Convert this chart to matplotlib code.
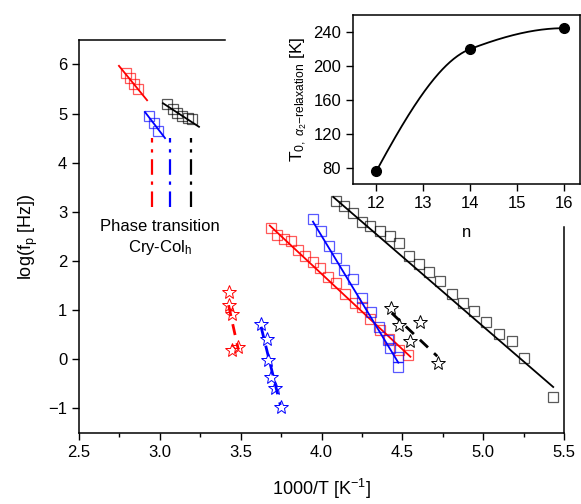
#!/usr/bin/env python3

import matplotlib
matplotlib.use('Agg')
import matplotlib.pyplot as plt
import numpy as np

plt.rcParams['font.family'] = ['Liberation Sans', 'DejaVu Sans']
plt.rcParams['mathtext.fontset'] = 'custom'
plt.rcParams['mathtext.rm'] = 'Liberation Sans'
plt.rcParams['mathtext.it'] = 'Liberation Sans:italic'

# --- low-T (crystal) data, top left
red_top_x = [2.789, 2.815, 2.840, 2.863]
red_top_y = [5.82, 5.72, 5.61, 5.49]
red_top_fit = ([2.747, 2.921], [5.97, 5.27])

blue_top_x = [2.935, 2.966, 2.990]
blue_top_y = [4.95, 4.81, 4.64]
blue_top_fit = ([2.908, 3.032], [5.03, 4.50])

black_top_x = [3.042, 3.083, 3.104, 3.135, 3.172, 3.197]
black_top_y = [5.19, 5.09, 5.02, 4.95, 4.90, 4.88]
black_top_fit = ([3.019, 3.242], [5.21, 4.73])

transition_x = [2.951, 3.063, 3.193]
transition_y = (3.1, 4.5)

# --- main relaxation (squares)
red_x = [3.687, 3.724, 3.768, 3.811, 3.854, 3.898, 3.947, 3.990, 4.040, 4.089,
         4.145, 4.207, 4.250, 4.300, 4.361, 4.417, 4.479, 4.535]
red_y = [2.67, 2.53, 2.45, 2.41, 2.23, 2.10, 1.98, 1.86, 1.68, 1.56,
         1.33, 1.15, 1.07, 0.82, 0.60, 0.42, 0.19, 0.09]
red_fit = ([3.68, 4.55], [2.72, 0.05])

blue_x = [3.945, 3.997, 4.046, 4.092, 4.142, 4.195, 4.248, 4.304, 4.357,
          4.414, 4.426, 4.476, 4.476]
blue_y = [2.85, 2.60, 2.30, 2.07, 1.82, 1.64, 1.24, 0.97, 0.66,
          0.40, 0.22, 0.05, -0.15]
blue_fit = ([3.947, 4.475], [2.80, -0.07])

black_x = [4.089, 4.139, 4.193, 4.248, 4.301, 4.363, 4.421, 4.481, 4.540, 4.601,
           4.666, 4.730, 4.805, 4.875, 4.943, 5.017, 5.099, 5.176, 5.255, 5.429]
black_y = [3.23, 3.12, 2.97, 2.79, 2.72, 2.60, 2.51, 2.37, 2.10, 1.93,
           1.78, 1.59, 1.32, 1.14, 0.99, 0.76, 0.52, 0.37, 0.02, -0.76]
black_fit = ([4.073, 5.433], [3.30, -0.565])

# --- secondary process (stars)
red_star_x = [3.428, 3.429, 3.445, 3.444, 3.483]
red_star_y = [1.36, 1.11, 0.92, 0.19, 0.25]
red_star_fit = ([3.425, 3.485], [1.10, 0.20])

blue_star_x = [3.626, 3.660, 3.671, 3.686, 3.715, 3.747]
blue_star_y = [0.72, 0.41, -0.01, -0.36, -0.59, -0.97]
blue_star_fit = ([3.626, 3.745], [0.66, -0.93])

black_star_x = [4.429, 4.480, 4.611, 4.547, 4.722]
black_star_y = [1.04, 0.69, 0.75, 0.38, -0.08]
black_star_fit = ([4.434, 4.716], [0.94, 0.06])

# --- inset
n_vals = [12, 14, 16]
T0_vals = [76.5, 220, 244.5]


def pchip(x, y, xs):
    x = np.asarray(x, float); y = np.asarray(y, float)
    h = np.diff(x); d = np.diff(y) / h
    m = np.zeros_like(y)
    for k in range(1, len(x) - 1):
        if d[k-1] * d[k] > 0:
            w1 = 2*h[k] + h[k-1]; w2 = h[k] + 2*h[k-1]
            m[k] = (w1 + w2) / (w1/d[k-1] + w2/d[k])
    m[0] = ((2*h[0] + h[1])*d[0] - h[0]*d[1]) / (h[0] + h[1])
    if m[0]*d[0] <= 0: m[0] = 0
    m[-1] = ((2*h[-1] + h[-2])*d[-1] - h[-1]*d[-2]) / (h[-1] + h[-2])
    if m[-1]*d[-1] <= 0: m[-1] = 0
    idx = np.clip(np.searchsorted(x, xs) - 1, 0, len(x) - 2)
    t = (xs - x[idx]) / h[idx]
    h00 = 2*t**3 - 3*t**2 + 1; h10 = t**3 - 2*t**2 + t
    h01 = -2*t**3 + 3*t**2; h11 = t**3 - t**2
    return h00*y[idx] + h10*h[idx]*m[idx] + h01*y[idx+1] + h11*h[idx]*m[idx+1]


fig = plt.figure(figsize=(5.81, 5.04), dpi=100)
ax = fig.add_axes([0.136, 0.141, 0.8348, 0.780])

sq = dict(marker='s', markersize=7.5, markerfacecolor='none', markeredgewidth=0.9,
          linestyle='none', alpha=0.65)
st = dict(marker='*', markersize=10, markerfacecolor='none', markeredgewidth=0.7,
          linestyle='none')

for xs, ys, fit, col in [(red_top_x, red_top_y, red_top_fit, 'red'),
                         (blue_top_x, blue_top_y, blue_top_fit, 'blue'),
                         (black_top_x, black_top_y, black_top_fit, 'black'),
                         (red_x, red_y, red_fit, 'red'),
                         (blue_x, blue_y, blue_fit, 'blue'),
                         (black_x, black_y, black_fit, 'black')]:
    ax.plot(xs, ys, color=col, **sq)
    ax.plot(fit[0], fit[1], color=col, lw=1.3)

for xs, ys, fit, col in [(red_star_x, red_star_y, red_star_fit, 'red'),
                         (blue_star_x, blue_star_y, blue_star_fit, 'blue'),
                         (black_star_x, black_star_y, black_star_fit, 'black')]:
    ax.plot(xs, ys, color=col, **st)
    ax.plot(fit[0], fit[1], color=col, lw=2, dashes=(4, 3))

for xv, col in zip(transition_x, ['red', 'blue', 'black']):
    ax.plot([xv, xv], transition_y, color=col, lw=1.6, dashes=(7, 3, 1.5, 3))

ax.text(3.0, 2.71, 'Phase transition', ha='center', va='center', fontsize=12)
ax.text(3.0, 2.27, r'Cry-Col$_\mathrm{h}$', ha='center', va='center', fontsize=12)

ax.set_xlim(2.5, 5.5)
ax.set_ylim(-1.5, 6.5)
ax.set_xticks(np.arange(2.5, 5.51, 0.5))
ax.set_xticks(np.arange(2.5, 5.51, 0.25), minor=True)
ax.set_yticks(np.arange(-1, 6.1, 1))
ax.set_xticklabels(['2.5', '3.0', '3.5', '4.0', '4.5', '5.0', '5.5'])
ax.set_yticklabels(['\u22121', '0', '1', '2', '3', '4', '5', '6'])
ax.tick_params(which='both', direction='out', labelsize=12, width=1.0, top=False, right=False)
ax.tick_params(which='major', length=5)
ax.tick_params(which='minor', length=3)
for s in ax.spines.values():
    s.set_linewidth(1.1)
ax.spines['top'].set_bounds(2.5, 3.40)
ax.spines['right'].set_bounds(-1.5, 2.69)
ax.set_xlabel(r'1000/T [K$^{-1}$]', fontsize=13, labelpad=12)
ax.set_ylabel(r'log(f$_\mathrm{p}$ [Hz])', fontsize=13, labelpad=6)

# inset
ins = fig.add_axes([0.6076, 0.6349, 0.3907, 0.3353])
nn = np.linspace(12, 16, 200)
ins.plot(nn, pchip(n_vals, T0_vals, nn), color='black', lw=1.3)
ins.plot(n_vals, T0_vals, 'o', color='black', markersize=7)
ins.set_xlim(11.5, 16.34)
ins.set_ylim(61, 260)
ins.set_xticks([12, 13, 14, 15, 16])
ins.set_yticks([80, 120, 160, 200, 240])
ins.tick_params(direction='out', labelsize=12, length=5, width=1.0, top=False, right=False)
for s in ins.spines.values():
    s.set_linewidth(1.1)
ins.set_xlabel('n', fontsize=12, labelpad=10)
ins.set_ylabel(r'T$_{0,\ \alpha_2\mathrm{-relaxation}}$ [K]', fontsize=12.5, labelpad=3)

fig.savefig('out.png', dpi=100)
